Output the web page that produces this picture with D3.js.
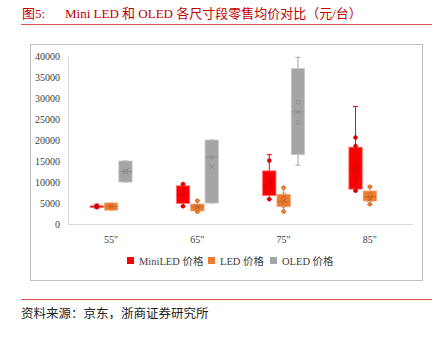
<!DOCTYPE html>
<html>
<head>
<meta charset="utf-8">
<script src="https://cdn.jsdelivr.net/npm/d3@7"></script>
<style>
  body { margin: 0; background: #fff; }
  text { font-family: "Liberation Serif", "Noto Sans CJK SC", serif; }
</style>
</head>
<body>
<div id="chart"></div>
<script>
const categories = ['55"', '65"', '75"', '85"'];
const seriesNames = ["MiniLED 价格", "LED 价格", "OLED 价格"];
const seriesColors = ["#FF0000", "#ED7D31", "#A5A5A5"];
const seriesDark = ["#C00000", "#B85A1E", "#7F7F7F"];
const seriesLight = ["#FF7070", "#F4A877", "#C9C9C9"];
const yTicks = [0, 5000, 10000, 15000, 20000, 25000, 30000, 35000, 40000];

// box stats per category (null = no box)
const miniledMin = [4000, 4200, 5900, 7900];
const miniledQ1 = [4100, 4900, 6750, 8300];
const miniledMedian = [4200, 7000, 9050, 13000];
const miniledQ3 = [4300, 9100, 12650, 18300];
const miniledMax = [4400, 9500, 16500, 28000];
const miniledMean = [4200, 7000, 9700, 13650];
const miniledPoints = [[4000, 4400], [9500, 7500, 6500, 4200], [15100, 11000, 10000, 8000, 5900], [20600, 18600, 15100, 13000, 11700, 10500, 7900]];

const ledMin = [3300, 2900, 2950, 4700];
const ledQ1 = [3300, 3100, 4130, 5480];
const ledMedian = [4200, 4050, 5300, 6500];
const ledQ3 = [5000, 4760, 7060, 7860];
const ledMax = [5000, 5550, 8650, 8880];
const ledMean = [4200, 4100, 5700, 5950];
const ledPoints = [[4200], [5550, 4000, 2900], [8650, 7000, 6000, 4300, 2950], [8880, 7000, 6000, 4700]];

const oledMin = [10000, 5000, 14000, null];
const oledQ1 = [10000, 5000, 16500, null];
const oledMedian = [12500, 16000, 26700, null];
const oledQ3 = [15000, 20000, 37000, null];
const oledMax = [15000, 20000, 39700, null];
const oledMean = [12500, 13670, 26700, null];
const oledPoints = [[12500], [16000], [29000, 24200], []];

const stats = [
  { min: miniledMin, q1: miniledQ1, med: miniledMedian, q3: miniledQ3, max: miniledMax, mean: miniledMean, pts: miniledPoints },
  { min: ledMin, q1: ledQ1, med: ledMedian, q3: ledQ3, max: ledMax, mean: ledMean, pts: ledPoints },
  { min: oledMin, q1: oledQ1, med: oledMedian, q3: oledQ3, max: oledMax, mean: oledMean, pts: oledPoints }
];

const width = 445, height = 338;
const svg = d3.select("#chart").append("svg")
  .attr("width", width).attr("height", height);

svg.append("rect").attr("width", width).attr("height", height).attr("fill", "#fff");

// Title
const title = svg.append("text").attr("x", 22).attr("y", 18)
  .attr("fill", "#C00000").style("font-size", "13px");
title.append("tspan").text("图5:");
title.append("tspan").attr("x", 65).text("Mini LED 和 OLED 各尺寸段零售均价对比（元/台）");
svg.append("line").attr("x1", 21).attr("x2", 432).attr("y1", 24.5).attr("y2", 24.5)
  .attr("stroke", "#D9534F").attr("stroke-width", 1.2);

// Chart border
svg.append("rect").attr("x", 30.5).attr("y", 44.5).attr("width", 392).attr("height", 236)
  .attr("fill", "none").attr("stroke", "#BFBFBF");

// Scales
const x = d3.scaleBand().domain(categories).range([68, 413]);
const inner = d3.scaleBand().domain(d3.range(3)).range([0, 43]);
const y = d3.scaleLinear().domain([0, 40000]).range([224, 56]);

// Y axis
const yAxis = svg.append("g").attr("transform", "translate(68,0)")
  .call(d3.axisLeft(y).tickValues(yTicks).tickFormat(d3.format("d")).tickSize(0).tickPadding(8));
yAxis.select(".domain").attr("stroke", "#D9D9D9");
yAxis.selectAll("text").style("font-size", "10px").style("font-family", "Liberation Serif").attr("fill", "#404040");

// X axis
const xAxis = svg.append("g").attr("transform", "translate(0,224)")
  .call(d3.axisBottom(x).tickSize(0).tickPadding(12));
xAxis.select(".domain").attr("stroke", "#D9D9D9");
xAxis.selectAll("text").style("font-size", "10px").style("font-family", "Liberation Serif").attr("fill", "#404040");

// Boxes
const capW = 5;
stats.forEach((s, si) => {
  const g = svg.append("g");
  categories.forEach((c, ci) => {
    if (s.med[ci] == null) return;
    const x0 = x(c) + (x.bandwidth() - 43) / 2 + inner(si) + 0.5;
    const w = inner.bandwidth() - 1;
    const cx = x0 + w / 2;
    // whiskers
    g.append("line").attr("x1", cx).attr("x2", cx).attr("y1", y(s.max[ci])).attr("y2", y(s.min[ci]))
      .attr("stroke", seriesColors[si]).attr("stroke-width", 1);
    [s.max[ci], s.min[ci]].forEach(v => {
      g.append("line").attr("x1", cx - capW / 2).attr("x2", cx + capW / 2).attr("y1", y(v)).attr("y2", y(v))
        .attr("stroke", seriesColors[si]).attr("stroke-width", 1);
    });
    // box
    const top = y(s.q3[ci]), bot = y(s.q1[ci]);
    g.append("rect").attr("x", x0).attr("y", top).attr("width", w).attr("height", Math.max(bot - top, 1.5))
      .attr("fill", seriesColors[si]).attr("stroke", seriesLight[si]).attr("stroke-width", 0.8);
    // median
    g.append("line").attr("x1", x0).attr("x2", x0 + w).attr("y1", y(s.med[ci])).attr("y2", y(s.med[ci]))
      .attr("stroke", seriesDark[si]).attr("stroke-width", 0.8).attr("stroke-opacity", 0.7);
    // points
    s.pts[ci].forEach(v => {
      const inside = v < s.q3[ci] && v > s.q1[ci];
      g.append("circle").attr("cx", cx).attr("cy", y(v)).attr("r", 2)
        .attr("fill", inside ? "none" : seriesDark[si] === "#C00000" ? "#E00000" : seriesColors[si])
        .attr("stroke", seriesDark[si]).attr("stroke-width", 0.6).attr("stroke-opacity", 0.8);
    });
    // mean X
    const my = y(s.mean[ci]), d = 3;
    g.append("path").attr("d", `M${cx - d},${my - d}L${cx + d},${my + d}M${cx - d},${my + d}L${cx + d},${my - d}`)
      .attr("stroke", seriesDark[si]).attr("stroke-width", 0.8).attr("stroke-opacity", 0.8);
  });
});

// Legend
const legendX = [127, 208, 270];
const legend = svg.append("g");
seriesNames.forEach((n, i) => {
  legend.append("rect").attr("x", legendX[i]).attr("y", 257).attr("width", 7).attr("height", 7)
    .attr("fill", seriesColors[i]);
  legend.append("text").attr("x", legendX[i] + 12).attr("y", 264.5).text(n)
    .style("font-size", "10.5px").attr("fill", "#404040");
});

// Footer
svg.append("line").attr("x1", 21).attr("x2", 432).attr("y1", 299.5).attr("y2", 299.5)
  .attr("stroke", "#D9534F").attr("stroke-width", 1.2);
svg.append("text").attr("x", 21).attr("y", 318).text("资料来源：京东，浙商证券研究所")
  .style("font-size", "12.5px").attr("fill", "#222");
</script>
</body>
</html>
